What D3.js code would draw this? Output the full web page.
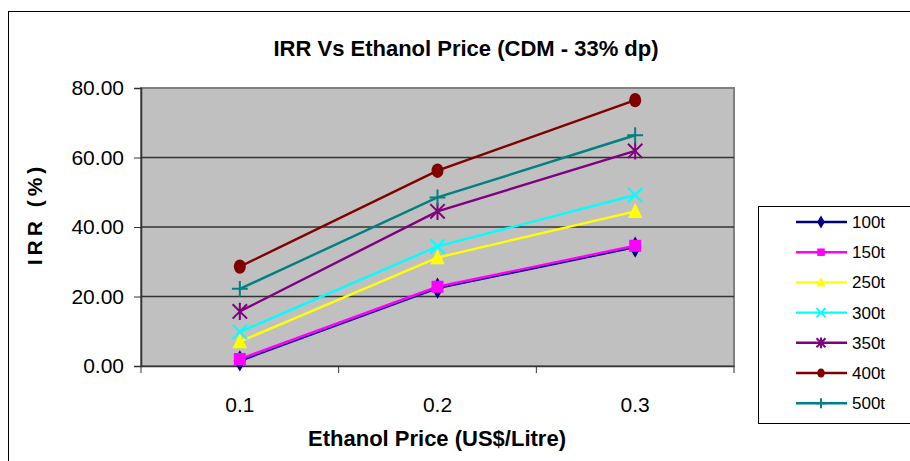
<!DOCTYPE html>
<html lang="en-US">
<head>
  <script src="https://d3js.org/d3.v7.min.js"></script>
  <style>
    body { margin: 0; background: #fff; }
    text { font-family: "Liberation Sans Narrow", "Liberation Sans", Arial, sans-serif; }
  </style>
</head>
<body>

<svg width="910" height="461"></svg>

<script>
var prices = ["0.1", "0.2", "0.3"];
var seriesNames = ["100t", "150t", "250t", "300t", "350t", "400t", "500t"];
var seriesColors = ["#000080", "#ff00ff", "#ffff00", "#00ffff", "#800080", "#800000", "#008080"];
var seriesMarkers = ["diamond", "square", "triangle", "x", "star", "circle", "plus"];
var irr100 = [1.5, 22.4, 34.2];
var irr150 = [2.0, 22.8, 34.6];
var irr250 = [7.0, 31.2, 44.5];
var irr300 = [9.8, 34.4, 49.2];
var irr350 = [15.7, 44.5, 61.9];
var irr400 = [28.6, 56.2, 76.5];
var irr500 = [22.2, 48.5, 66.4];
var yTicks = [0, 20, 40, 60, 80];

var allValues = [irr100, irr150, irr250, irr300, irr350, irr400, irr500];
var series = seriesNames.map(function(n, i) {
  return {name: n, color: seriesColors[i], marker: seriesMarkers[i], values: allValues[i]};
});

var svg = d3.select("svg");

// outer chart frame
svg.append("rect").attr("x", 8.5).attr("y", 11.5).attr("width", 910).attr("height", 460)
  .attr("fill", "#fff").attr("stroke", "#000").attr("stroke-width", 1);

var x = d3.scaleBand().domain(prices).range([141, 734]);
var y = d3.scaleLinear().domain([0, 80]).range([366, 88]);

// plot area
svg.append("rect").attr("x", 141).attr("y", 88).attr("width", 734 - 141).attr("height", 366 - 88)
  .attr("fill", "#c0c0c0").attr("stroke", "#808080").attr("stroke-width", 2);

svg.append("g").selectAll("line").data(yTicks.slice(1, -1)).enter().append("line")
  .attr("x1", 141).attr("x2", 734)
  .attr("y1", function(d) { return y(d); }).attr("y2", function(d) { return y(d); })
  .attr("stroke", "#333").attr("stroke-width", 1.5);

// y axis
var yAxis = svg.append("g").attr("transform", "translate(141,0)")
  .call(d3.axisLeft(y).tickValues(yTicks).tickFormat(d3.format(".2f")).tickSize(7).tickPadding(10));
yAxis.select(".domain").attr("stroke", "#333").attr("stroke-width", 1.5);
yAxis.selectAll(".tick line").attr("stroke", "#333");
yAxis.selectAll("text").attr("font-size", 21).attr("fill", "#000").style("font-family", null);

// x axis
var xAxis = svg.append("g").attr("transform", "translate(0,366)")
  .call(d3.axisBottom(x).tickSize(0).tickPadding(31));
xAxis.select(".domain").attr("stroke", "#333").attr("stroke-width", 1.5);
xAxis.selectAll("text").attr("font-size", 21).attr("fill", "#000").style("font-family", null);
var bounds = prices.map(function(p) { return x(p); }).concat([x(prices[prices.length - 1]) + x.bandwidth()]);
xAxis.selectAll(".bound").data(bounds).enter().append("line")
  .attr("x1", function(d) { return d; }).attr("x2", function(d) { return d; })
  .attr("y1", 0).attr("y2", 7).attr("stroke", "#333");

// titles
svg.append("text").attr("x", 466).attr("y", 56).attr("text-anchor", "middle")
  .attr("font-size", 22).attr("font-weight", "bold").text("IRR Vs Ethanol Price (CDM - 33% dp)");
svg.append("text").attr("x", 437).attr("y", 446).attr("text-anchor", "middle")
  .attr("font-size", 22).attr("font-weight", "bold").text("Ethanol Price (US$/Litre)");
svg.append("text").attr("transform", "translate(42,214) rotate(-90)").attr("text-anchor", "middle")
  .attr("font-size", 21).attr("font-weight", "bold").attr("letter-spacing", 4).text("IRR (%)");

function drawMarker(g, type, color, s) {
  if (type === "diamond") {
    g.append("path").attr("d", d3.symbol(d3.symbolDiamond, s * s * 0.9)()).attr("fill", color);
  } else if (type === "square") {
    g.append("rect").attr("x", -s / 2).attr("y", -s / 2).attr("width", s).attr("height", s).attr("fill", color);
  } else if (type === "triangle") {
    g.append("path").attr("d", "M0," + (-s * 0.7) + "L" + (s * 0.6) + "," + (s * 0.55) + "L" + (-s * 0.6) + "," + (s * 0.55) + "Z").attr("fill", color);
  } else if (type === "circle") {
    g.append("ellipse").attr("rx", s * 0.5).attr("ry", s * 0.6).attr("fill", color);
  } else {
    var h = s * 0.6, p = "";
    if (type === "x" || type === "star") p += "M" + (-h) + "," + (-h) + "L" + h + "," + h + "M" + (-h) + "," + h + "L" + h + "," + (-h);
    if (type === "star") p += "M0," + (-h * 1.2) + "L0," + (h * 1.2);
    if (type === "plus") p += "M" + (-h * 1.1) + ",0L" + (h * 1.1) + ",0M0," + (-h * 1.1) + "L0," + (h * 1.1);
    g.append("path").attr("d", p).attr("stroke", color).attr("stroke-width", 2).attr("fill", "none");
  }
}

var line = d3.line()
  .x(function(d, i) { return x(prices[i]) + x.bandwidth() / 2; })
  .y(function(d) { return y(d); });

series.forEach(function(s) {
  var g = svg.append("g");
  g.append("path").attr("d", line(s.values)).attr("fill", "none")
    .attr("stroke", s.color).attr("stroke-width", 2.4);
  s.values.forEach(function(v, i) {
    var m = g.append("g").attr("transform", "translate(" + (x(prices[i]) + x.bandwidth() / 2) + "," + y(v) + ")");
    drawMarker(m, s.marker, s.color, 12);
  });
});

// legend
var legend = svg.append("g");
legend.append("rect").attr("x", 758.5).attr("y", 206.5).attr("width", 200).attr("height", 217)
  .attr("fill", "#fff").attr("stroke", "#000");
var item = legend.selectAll(".item").data(series).enter().append("g")
  .attr("transform", function(d, i) { return "translate(0," + (222 + i * 30.2) + ")"; });
item.append("line").attr("x1", 796).attr("x2", 847).attr("y1", 0).attr("y2", 0)
  .attr("stroke", function(d) { return d.color; }).attr("stroke-width", 2.4);
item.each(function(d) {
  var m = d3.select(this).append("g").attr("transform", "translate(821,0)");
  drawMarker(m, d.marker, d.color, 7.5);
});
item.append("text").attr("x", 852).attr("y", 6).attr("font-size", 17).text(function(d) { return d.name; });
</script>
</body>
</html>
